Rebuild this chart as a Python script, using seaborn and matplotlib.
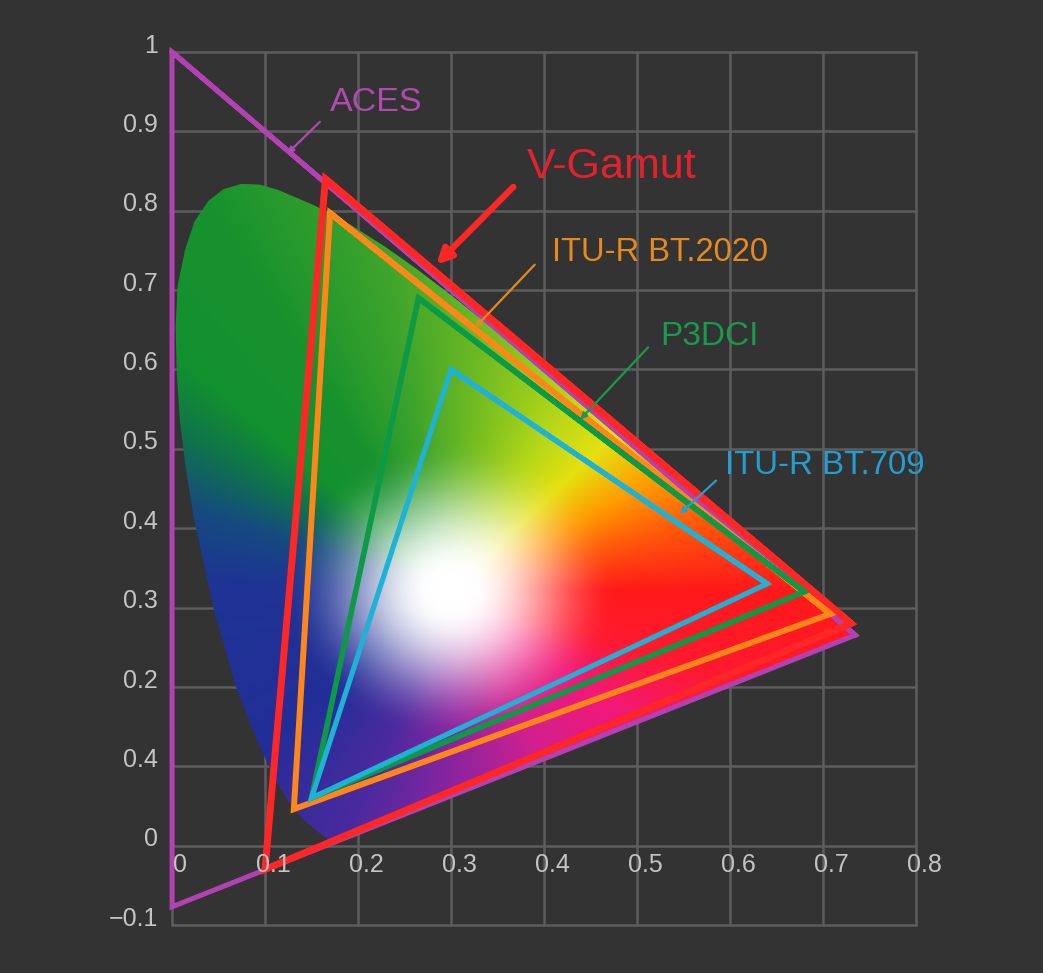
import numpy as np
import pandas as pd
import matplotlib
matplotlib.use("Agg")
import matplotlib.pyplot as plt
from matplotlib.patches import Polygon
import seaborn as sns

# gamut primaries, order R, G, B (CIE 1931 xy)
gamut_names = ["ACES", "V-Gamut", "ITU-R BT.2020", "P3DCI", "ITU-R BT.709"]
aces_x = [0.7347, 0.0, 0.0001]
aces_y = [0.2653, 1.0, -0.077]
vgamut_x = [0.730, 0.165, 0.100]
vgamut_y = [0.280, 0.840, -0.030]
bt2020_x = [0.708, 0.170, 0.131]
bt2020_y = [0.292, 0.797, 0.046]
p3_x = [0.680, 0.265, 0.150]
p3_y = [0.320, 0.690, 0.060]
bt709_x = [0.640, 0.300, 0.150]
bt709_y = [0.330, 0.600, 0.060]

# spectral locus (380 - 700 nm), denser round the green peak
locus_x = [0.1741, 0.1738, 0.1714, 0.1689, 0.1644, 0.1566, 0.1440, 0.1355,
           0.1241, 0.1096, 0.0913, 0.0687, 0.0454, 0.0235, 0.0148, 0.0082,
           0.0050, 0.0039, 0.0060, 0.0139, 0.0240, 0.0389, 0.0550, 0.0743,
           0.0940, 0.1142, 0.1547, 0.1929, 0.2296, 0.2658,
           0.3016, 0.3373, 0.3731, 0.4087, 0.4441, 0.4788, 0.5125, 0.5448,
           0.5752, 0.6029, 0.6270, 0.6482, 0.6658, 0.6915, 0.7079, 0.7190,
           0.7260, 0.7300, 0.7334, 0.7347]
locus_y = [0.0050, 0.0049, 0.0051, 0.0069, 0.0109, 0.0177, 0.0297, 0.0399,
           0.0578, 0.0868, 0.1327, 0.2007, 0.2950, 0.4127, 0.4760, 0.5384,
           0.5980, 0.6548, 0.7050, 0.7502, 0.7860, 0.8120, 0.8270, 0.8338,
           0.8330, 0.8262, 0.8059, 0.7816, 0.7543, 0.7243,
           0.6923, 0.6589, 0.6245, 0.5896, 0.5547, 0.5202, 0.4866, 0.4544,
           0.4242, 0.3965, 0.3725, 0.3514, 0.3340, 0.3083, 0.2920, 0.2809,
           0.2740, 0.2700, 0.2666, 0.2653]

x_ticks = [0, 0.1, 0.2, 0.3, 0.4, 0.5, 0.6, 0.7, 0.8]
x_tick_labels = ["0", "0.1", "0.2", "0.3", "0.4", "0.5", "0.6", "0.7", "0.8"]
y_ticks = [-0.1, 0, 0.1, 0.2, 0.3, 0.4, 0.5, 0.6, 0.7, 0.8, 0.9, 1.0]
y_tick_labels = ["\u22120.1", "0", "0.4", "0.2", "0.3", "0.4", "0.5", "0.6",
                 "0.7", "0.8", "0.9", "1"]

BG = "#333333"
line_colors = {"ACES": "#b441b4", "V-Gamut": "#ff2626", "ITU-R BT.2020": "#ff8618",
               "P3DCI": "#0c9a46", "ITU-R BT.709": "#1eb2d6"}
line_widths = {"ACES": 3.6, "V-Gamut": 5.0, "ITU-R BT.2020": 4.3,
               "P3DCI": 4.0, "ITU-R BT.709": 3.7}
text_colors = {"ACES": "#b04ab0", "V-Gamut": "#e3222e", "ITU-R BT.2020": "#e68a1e",
               "P3DCI": "#199a4c", "ITU-R BT.709": "#229fd2"}

sns.set_theme(style="dark", rc={"axes.facecolor": BG, "figure.facecolor": BG})
plt.rcParams["font.family"] = ["Liberation Sans", "DejaVu Sans"]

# long table of closed triangles for lineplot
rows = []
for name, xs, ys in zip(gamut_names,
                        [aces_x, vgamut_x, bt2020_x, p3_x, bt709_x],
                        [aces_y, vgamut_y, bt2020_y, p3_y, bt709_y]):
    for i in [0, 1, 2, 0, 1]:
        rows.append({"gamut": name, "x": xs[i], "y": ys[i]})
df = pd.DataFrame(rows)

fig = plt.figure(figsize=(10.43, 9.73), dpi=100)
ax = fig.add_axes([172 / 1043, 1 - 925 / 973, (916 - 172) / 1043, (925 - 52) / 973])

# chromaticity colour field, hue around the white point
wx, wy = 0.300, 0.322
hue_deg = [0, 18, 32, 48, 62, 80, 100, 118, 135, 147, 160, 178, 225, 250, 270,
           295, 320, 340, 360]
hue_hex = ["#ff1a1a", "#ff5a0a", "#ff9a00", "#e6e010", "#b8d818", "#7cc020",
           "#3ea42c", "#18922e", "#13902e", "#0f7050", "#164a80", "#1e3494",
           "#222e98", "#4a2a9e", "#8a24a0", "#d2208e", "#f21878", "#ff1a30",
           "#ff1a1a"]
hue_rgb = np.array([matplotlib.colors.to_rgb(c) for c in hue_hex])

gx = np.linspace(0, 0.8, 801)
gy = np.linspace(-0.1, 1.0, 1101)
GX, GY = np.meshgrid(gx, gy)
ang = np.degrees(np.arctan2(GY - wy, GX - wx)) % 360
rad = np.hypot(GX - wx, (GY - wy) * 0.95)
base = np.stack([np.interp(ang, hue_deg, hue_rgb[:, k]) for k in range(3)], axis=-1)
t = np.clip((rad - 0.02) / 0.16, 0, 1)
s = t * t * (3 - 2 * t)
img = 1 - s[..., None] * (1 - base)

im = ax.imshow(img, extent=(0, 0.8, -0.1, 1.0), origin="lower", aspect="auto",
               interpolation="bilinear", zorder=1)
locus_patch = Polygon(np.column_stack([locus_x, locus_y]), closed=True,
                      transform=ax.transData)
im.set_clip_path(locus_patch)

sns.lineplot(data=df, x="x", y="y", hue="gamut", size="gamut",
             hue_order=gamut_names, size_order=gamut_names,
             palette=line_colors, sizes=line_widths, sort=False,
             estimator=None, legend=False, ax=ax, zorder=3,
             solid_joinstyle="miter", clip_on=False)

ax.set_xlim(0, 0.8)
ax.set_ylim(-0.1, 1.0)
ax.set_xticks(x_ticks)
ax.set_yticks(y_ticks)
ax.tick_params(left=False, bottom=False, labelleft=False, labelbottom=False)
ax.grid(True, color="#5d5d5d", lw=1.8)
for gl in ax.get_xgridlines() + ax.get_ygridlines():
    gl.set_clip_on(False)
for sp in ax.spines.values():
    sp.set_visible(False)
ax.set_xlabel("")
ax.set_ylabel("")

tick_kw = dict(color="#c4c4c4", fontsize=18)
for v, lab in zip(y_ticks, y_tick_labels):
    ax.text(-0.015, v + 0.008, lab, ha="right", va="center", **tick_kw)
for v, lab in zip(x_ticks, x_tick_labels):
    ax.text(v + 0.009, -0.024, lab, ha="center", va="center", **tick_kw)

# labels with leader lines
label_pos = {"ACES": (0.170, 0.936), "V-Gamut": (0.382, 0.855),
             "ITU-R BT.2020": (0.409, 0.747), "P3DCI": (0.525, 0.642),
             "ITU-R BT.709": (0.595, 0.479)}
label_size = {"ACES": 24.5, "V-Gamut": 31, "ITU-R BT.2020": 23.6,
              "P3DCI": 24, "ITU-R BT.709": 23.8}
leaders = {"ACES": ((0.159, 0.912), (0.124, 0.872)),
           "V-Gamut": ((0.367, 0.830), (0.284, 0.732)),
           "ITU-R BT.2020": ((0.390, 0.732), (0.326, 0.653)),
           "P3DCI": ((0.512, 0.628), (0.439, 0.537)),
           "ITU-R BT.709": ((0.585, 0.460), (0.546, 0.418))}

for name in gamut_names:
    tx, ty = label_pos[name]
    ax.text(tx, ty, name, color=text_colors[name], fontsize=label_size[name],
            ha="left", va="center", zorder=5)
    start, end = leaders[name]
    if name == "V-Gamut":
        props = dict(arrowstyle="-|>", color=line_colors[name], lw=4.5,
                     mutation_scale=22, shrinkA=0, shrinkB=0)
    else:
        props = dict(arrowstyle="-|>", color=text_colors[name], lw=1.6,
                     mutation_scale=9, shrinkA=0, shrinkB=0)
    ax.annotate("", xy=end, xytext=start, arrowprops=props, zorder=5)

fig.savefig("out.png", dpi=100, facecolor=BG)
